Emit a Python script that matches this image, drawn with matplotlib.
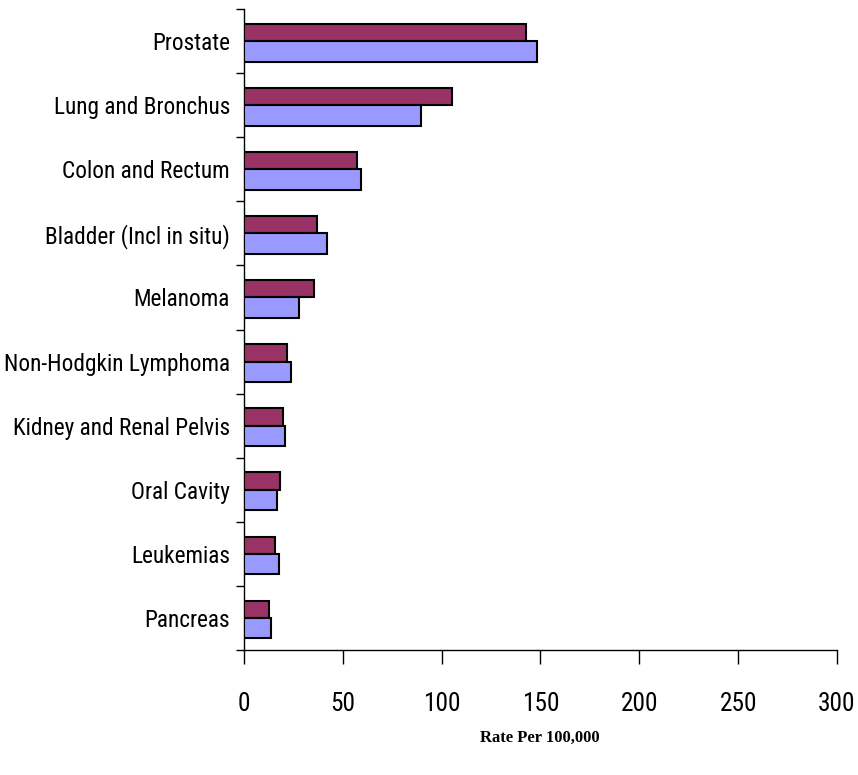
import matplotlib
matplotlib.use("Agg")
import matplotlib.pyplot as plt
from matplotlib import font_manager
from matplotlib.font_manager import FontProperties
from matplotlib.textpath import TextPath
import numpy as np

# Cancer incidence rates, two series per site
sites = ["Prostate", "Lung and Bronchus", "Colon and Rectum", "Bladder (Incl in situ)",
         "Melanoma", "Non-Hodgkin Lymphoma", "Kidney and Renal Pelvis", "Oral Cavity",
         "Leukemias", "Pancreas"]
rate_a = [142.5, 105, 57, 37, 35.5, 22, 19.5, 18, 15.5, 12.5]   # maroon
rate_b = [148, 89.5, 59, 42, 28, 24, 20.5, 16.5, 17.5, 13.5]    # blue
xticks = [0, 50, 100, 150, 200, 250, 300]

DPI = 100

# pick a condensed face if one is around, else plain Arial-like
installed = {f.name for f in font_manager.fontManager.ttflist}
family = "Liberation Sans"
for cand in ["Liberation Sans Narrow", "Roboto Condensed", "Open Sans Condensed",
             "DejaVu Sans Condensed"]:
    if cand in installed:
        family = cand
        break


def size_for_width(text, px):
    # font size (pt) that makes text about px pixels wide
    tp = TextPath((0, 0), text, size=10, prop=FontProperties(family=family))
    w = tp.get_extents().width * DPI / 72
    return 10 * px / w


cat_size = size_for_width("Kidney and Renal Pelvis", 215)
tick_size = size_for_width("300", 35)

fig = plt.figure(figsize=(8.58, 7.75), dpi=DPI)
ax = fig.add_axes([244 / 858, 1 - 650 / 775, (837 - 244) / 858, (650 - 9) / 775])

y = np.arange(len(sites))
h_a, h_b = 0.27, 0.32
ax.barh(y - h_a / 2, rate_a, height=h_a, color="#993366", edgecolor="black", linewidth=1.5, zorder=3)
ax.barh(y + h_b / 2, rate_b, height=h_b, color="#9999FF", edgecolor="black", linewidth=1.5, zorder=3)

ax.set_xlim(0, 300)
ax.set_ylim(len(sites) - 0.5, -0.5)

# category ticks at boundaries, labels centred between them
ax.set_yticks(np.arange(-0.5, len(sites), 1.0))
ax.set_yticklabels([])
ax.set_yticks(y, minor=True)
ax.set_yticklabels(sites, minor=True, fontsize=cat_size, family=family)
ax.tick_params(axis="y", which="major", length=6, width=1, direction="out")
ax.tick_params(axis="y", which="minor", length=0, pad=10)

ax.set_xticks(xticks)
ax.set_xticklabels([str(t) for t in xticks], fontsize=tick_size, family=family)
ax.tick_params(axis="x", length=10, width=1, direction="out", pad=20)

for s in ["top", "right"]:
    ax.spines[s].set_visible(False)
ax.spines["left"].set_linewidth(1)
ax.spines["bottom"].set_linewidth(1)

fig.text(540 / 858, 1 - 738 / 775, "Rate Per 100,000", ha="center", va="center",
         fontsize=12, fontweight="bold", family="Liberation Serif")

fig.savefig("out.png", dpi=DPI)
